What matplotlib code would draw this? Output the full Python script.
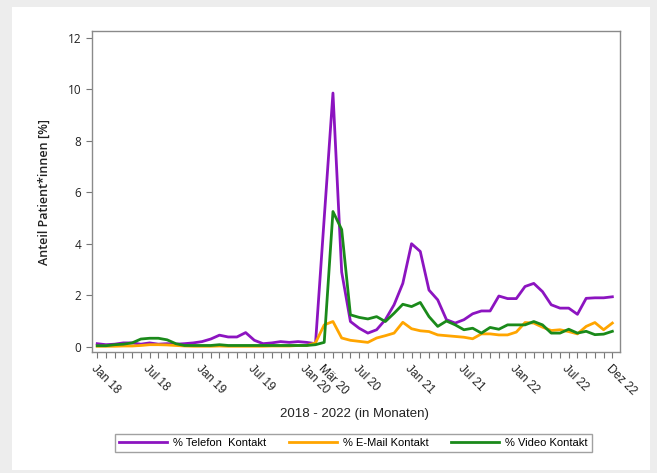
import numpy as np
import matplotlib.pyplot as plt
from matplotlib.patches import Rectangle

# Monthly share of patients per contact type, Jan 2018 - Dec 2022 (60 months)
telefon = [0.12, 0.08, 0.10, 0.15, 0.15, 0.10, 0.15, 0.10, 0.12, 0.10,
           0.12, 0.15, 0.20, 0.30, 0.45, 0.38, 0.38, 0.55, 0.25, 0.12,
           0.15, 0.20, 0.17, 0.20, 0.17, 0.12, 5.00, 9.85, 2.90, 0.98,
           0.72, 0.53, 0.66, 1.05, 1.63, 2.46, 4.00, 3.70, 2.20, 1.82,
           1.05, 0.92, 1.05, 1.28, 1.39, 1.39, 1.97, 1.87, 1.87, 2.34,
           2.46, 2.14, 1.63, 1.50, 1.50, 1.26, 1.88, 1.90, 1.90, 1.94]
email = [0.02, 0.02, 0.02, 0.03, 0.03, 0.05, 0.08, 0.08, 0.07, 0.05,
         0.03, 0.02, 0.02, 0.02, 0.03, 0.02, 0.02, 0.02, 0.02, 0.02,
         0.03, 0.03, 0.03, 0.05, 0.05, 0.15, 0.85, 0.98, 0.34, 0.25,
         0.21, 0.17, 0.34, 0.43, 0.53, 0.95, 0.70, 0.62, 0.59, 0.46,
         0.43, 0.40, 0.37, 0.31, 0.50, 0.50, 0.46, 0.46, 0.57, 0.94,
         0.92, 0.76, 0.63, 0.66, 0.59, 0.50, 0.79, 0.94, 0.66, 0.92]
video = [0.04, 0.04, 0.08, 0.10, 0.15, 0.30, 0.33, 0.33, 0.27, 0.12,
         0.05, 0.05, 0.05, 0.05, 0.08, 0.05, 0.05, 0.05, 0.05, 0.05,
         0.05, 0.05, 0.05, 0.05, 0.05, 0.08, 0.17, 5.25, 4.55, 1.24,
         1.14, 1.08, 1.17, 0.98, 1.30, 1.65, 1.56, 1.72, 1.17, 0.79,
         1.00, 0.85, 0.66, 0.72, 0.53, 0.75, 0.68, 0.85, 0.85, 0.85,
         0.98, 0.85, 0.53, 0.53, 0.68, 0.53, 0.60, 0.47, 0.49, 0.60]

tick_pos = [0, 6, 12, 18, 24, 26, 30, 36, 42, 48, 54, 59]
tick_labels = ['Jan 18', 'Jul 18', 'Jan 19', 'Jul 19', 'Jan 20', 'Mär 20',
               'Jul 20', 'Jan 21', 'Jul 21', 'Jan 22', 'Jul 22', 'Dez 22']

months = np.arange(len(telefon))

fig = plt.figure(figsize=(6.57, 4.73), dpi=100, facecolor='#ededed')
# white panel behind the chart
fig.patches.append(Rectangle((0.018, 0.006), 0.972, 0.98, transform=fig.transFigure,
                             facecolor='white', edgecolor='none', zorder=-10))

ax = fig.add_axes([0.140, 0.256, 0.804, 0.678])
ax.set_zorder(2)
ax.plot(months, telefon, color='#8c14c0', lw=2.0, label='% Telefon  Kontakt')
ax.plot(months, email, color='#ffa500', lw=2.0, label='% E-Mail Kontakt')
ax.plot(months, video, color='#1a8a1a', lw=2.0, label='% Video Kontakt')

ax.set_xlim(-0.6, 59.9)
ax.set_ylim(-0.2, 12.25)
ax.set_yticks([0, 2, 4, 6, 8, 10, 12])

# a tick for every month, labels only on the named months
ax.set_xticks(months)
labels = [''] * len(months)
for p, t in zip(tick_pos, tick_labels):
    labels[p] = t
ax.set_xticklabels(labels, rotation=-45, ha='left', va='top', rotation_mode='anchor',
                   family='Liberation Sans', fontsize=8.5, color='#222222')
ax.tick_params(axis='x', length=4, width=0.8, color='#777777', pad=4)
ax.tick_params(axis='y', length=4, width=0.8, color='#777777', labelsize=8.5,
               labelcolor='#222222')
for lab in ax.get_yticklabels():
    lab.set_family('Open Sans')

for s in ax.spines.values():
    s.set_color('#8a8a8a')
    s.set_linewidth(1.0)

ax.set_ylabel('Anteil Patient*innen [%]', family='Open Sans', fontweight='semibold',
              fontsize=9, color='#222222', labelpad=12)
fig.text(0.54, 0.124, '2018 - 2022 (in Monaten)', ha='center', va='center',
         family='Liberation Sans', fontsize=9.5, color='#222222')

leg = fig.legend(loc='center', bbox_to_anchor=(0.538, 0.063), ncol=3, frameon=True,
                 fancybox=False, edgecolor='#8a8a8a', handlelength=4.3,
                 columnspacing=2.0, handletextpad=0.6, borderpad=0.35,
                 prop={'family': 'Liberation Sans', 'size': 8})
leg.get_frame().set_linewidth(1.0)

fig.savefig('out.png', dpi=100, facecolor=fig.get_facecolor())
